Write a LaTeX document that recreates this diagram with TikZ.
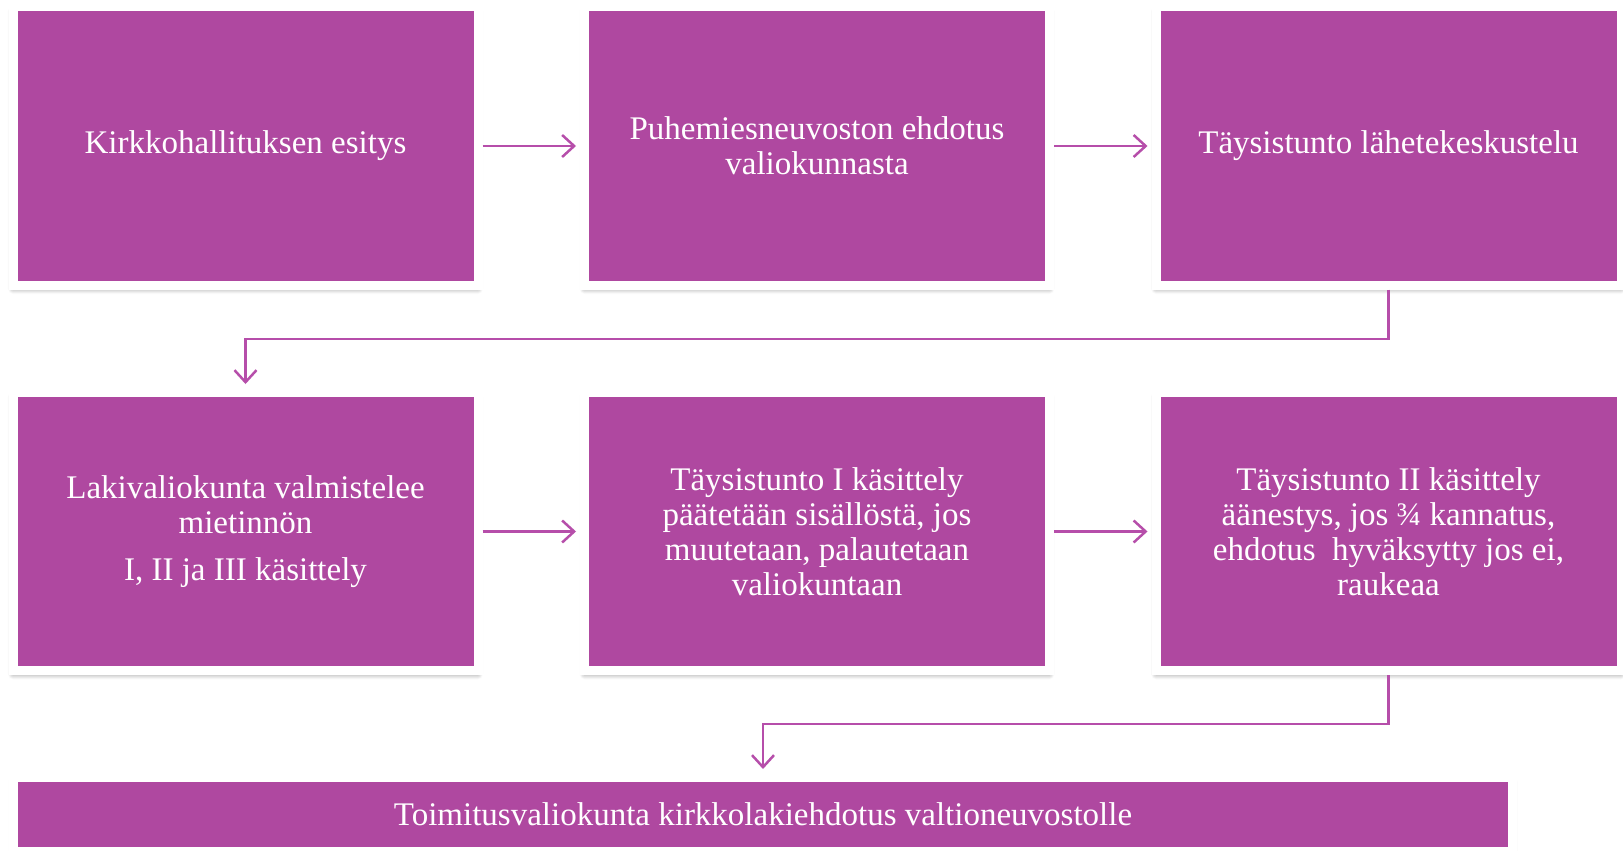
\documentclass[tikz,border=0pt]{standalone}
\usepackage{fontspec}
\setmainfont{Liberation Serif}
\usepackage{xcolor}
\usetikzlibrary{arrows.meta,calc,shadows.blur}

\definecolor{vaiheVari}{RGB}{175,72,160}
\definecolor{nuoliVari}{RGB}{182,78,170}

\tikzset{
  vaihe/.style={rectangle, fill=vaiheVari, draw=white, line width=9pt, text=white,
    align=center, inner sep=0pt, font=\fontsize{33}{35}\selectfont,
    minimum width=465pt, minimum height=278pt,
    blur shadow={shadow xshift=0pt, shadow yshift=-4pt, shadow blur radius=5pt,
      shadow blur steps=8, shadow opacity=45}},
  nuoli/.style={draw=nuoliVari, line width=2.5pt, shorten >=4pt,
    -{Straight Barb[length=12pt,width=22pt]}}
}

\begin{document}
\begin{tikzpicture}[x=1pt,y=-1pt]
  \useasboundingbox (0,0) rectangle (1623,851);

  \node[vaihe] (esitys) at (245.5,146) {Kirkkohallituksen esitys};
  \node[vaihe] (puhemies) at (817,146) {Puhemiesneuvoston ehdotus\\valiokunnasta};
  \node[vaihe] (lahete) at (1388.5,146) {Täysistunto lähetekeskustelu};

  \node[vaihe] (lakivk) at (245.5,531.5) {Lakivaliokunta valmistelee\\mietinnön\\[12pt]I, II ja III käsittely};
  \node[vaihe] (eka) at (817,531.5) {Täysistunto I käsittely\\päätetään sisällöstä, jos\\muutetaan, palautetaan\\valiokuntaan};
  \node[vaihe] (toka) at (1388.5,531.5) {Täysistunto II käsittely\\äänestys, jos ¾ kannatus,\\ehdotus~ hyväksytty jos ei,\\raukeaa};

  \node[vaihe, minimum width=1499pt, minimum height=74pt] (toimitus) at (763,814.5)
    {Toimitusvaliokunta kirkkolakiehdotus valtioneuvostolle};

  \draw[nuoli] (esitys) -- (puhemies);
  \draw[nuoli] (puhemies) -- (lahete);
  \draw[nuoli] (lahete.south) -- ($(lahete.south)!.5!(lahete.south |- lakivk.north)$) -| (lakivk.north);
  \draw[nuoli] (lakivk) -- (eka);
  \draw[nuoli] (eka) -- (toka);
  \draw[nuoli] (toka.south) -- ($(toka.south)!.5!(toka.south |- toimitus.north)$) -| (toimitus.north);
\end{tikzpicture}
\end{document}
